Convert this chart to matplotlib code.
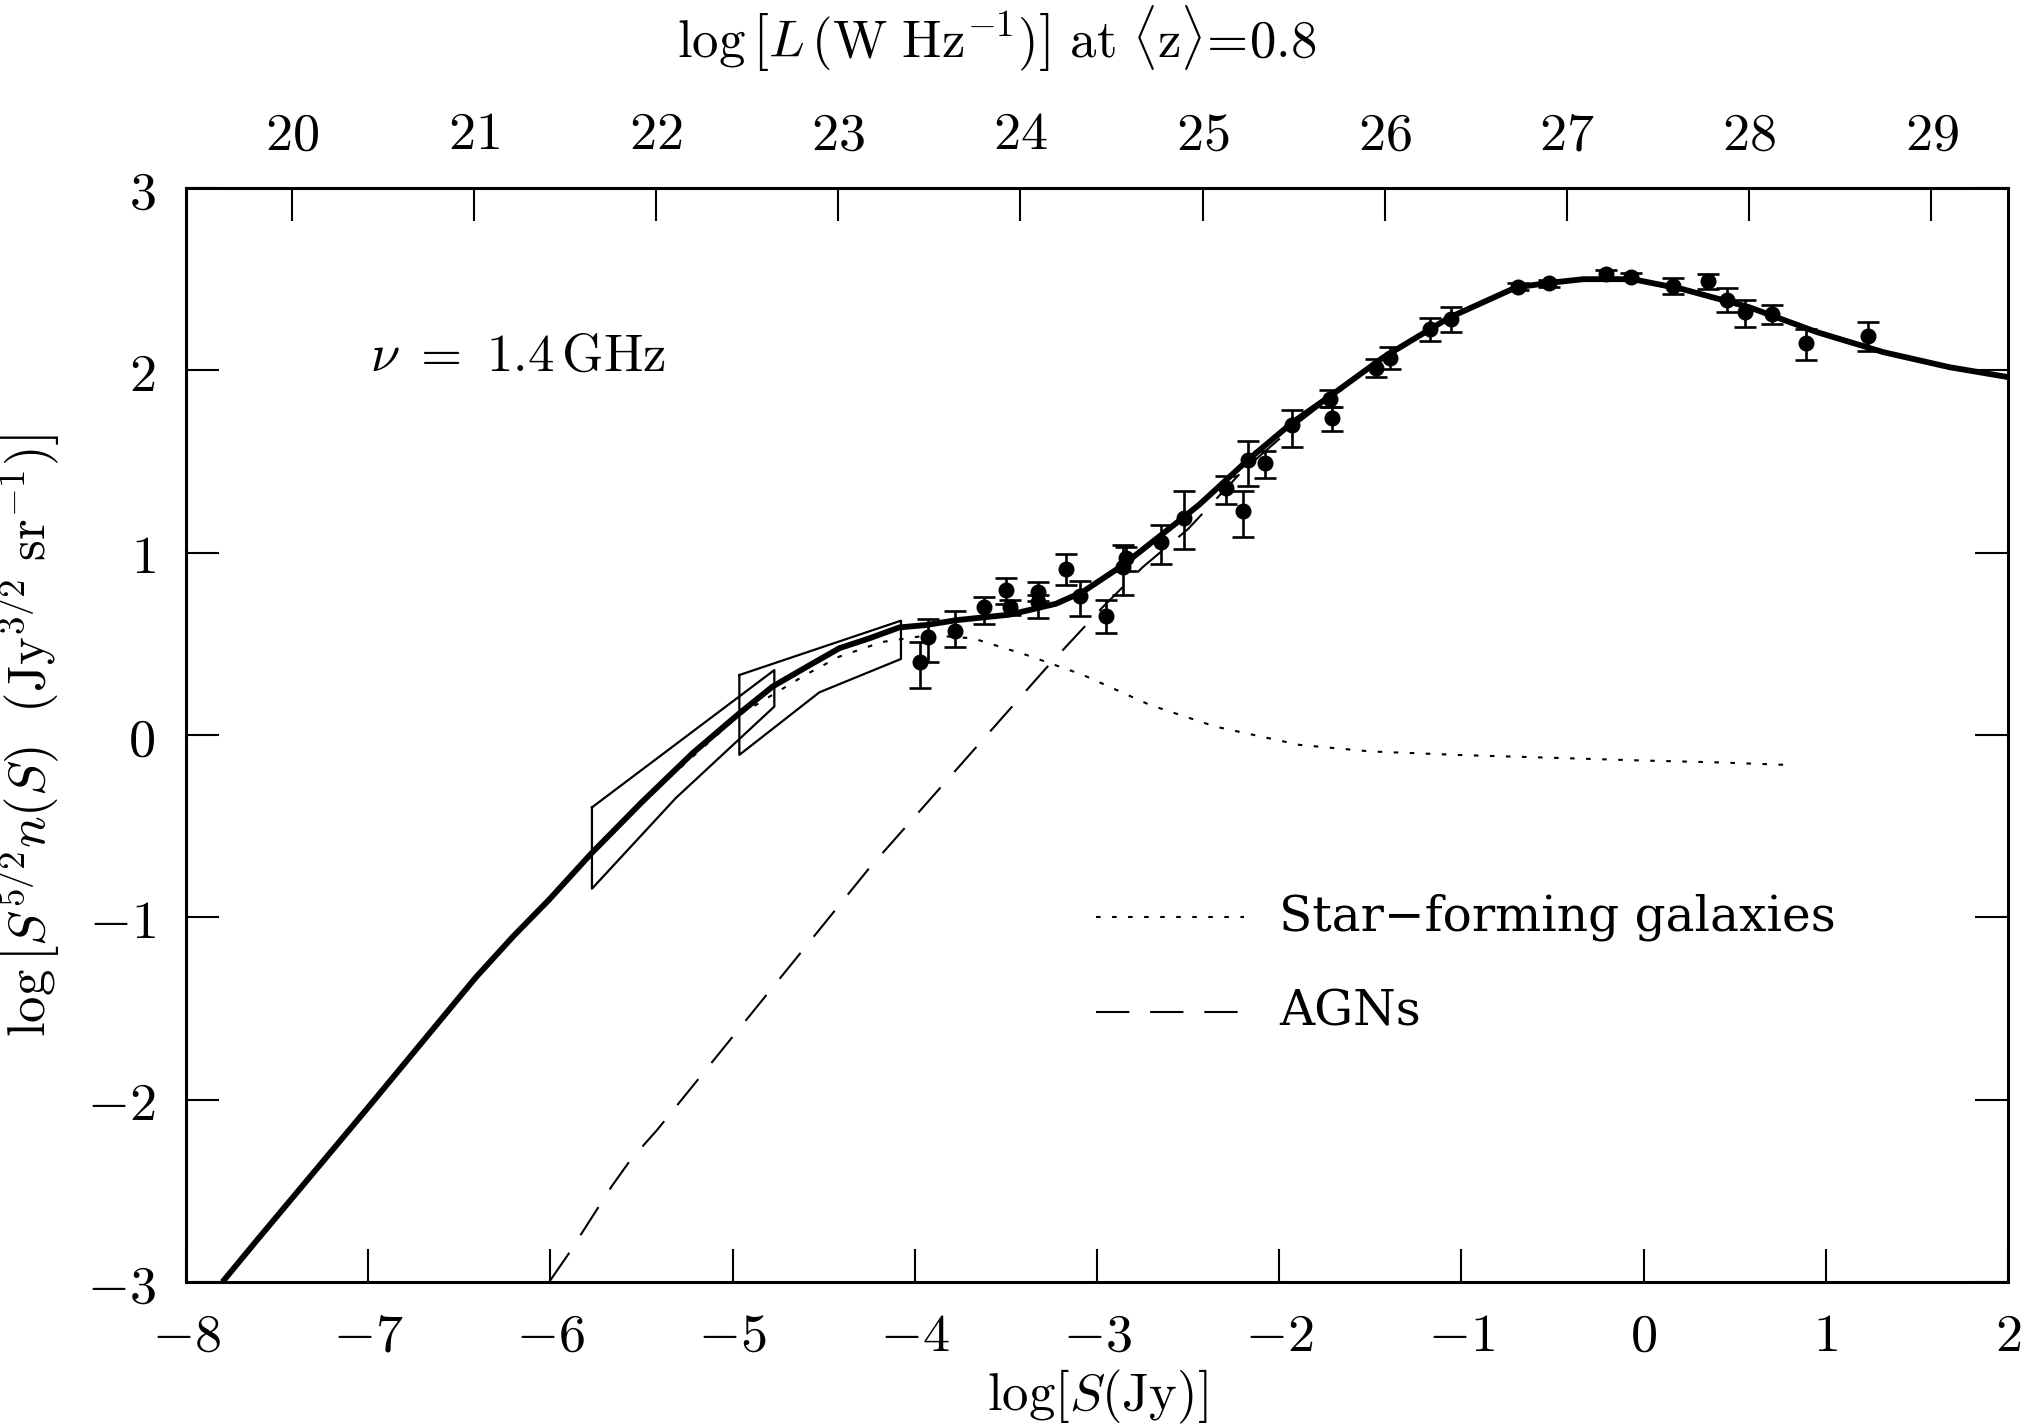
import matplotlib
matplotlib.use("Agg")
import matplotlib.pyplot as plt
from matplotlib.ticker import FuncFormatter
import numpy as np

plt.rcParams['mathtext.fontset'] = 'cm'
plt.rcParams['font.family'] = 'serif'
plt.rcParams['font.serif'] = ['DejaVu Serif']

# offset between log S and log L at <z> = 0.8
L_OFFSET = 27.42

# total model counts (solid)
tot_x = [-7.80, -7.61, -7.30, -6.99, -6.70, -6.41, -6.20, -6.007, -5.773, -5.50,
         -5.22, -4.963, -4.78, -4.60, -4.414, -4.25, -4.085, -3.94, -3.77, -3.48,
         -3.225, -3.078, -2.86, -2.53, -2.437, -2.17, -1.925, -1.705, -1.43, -1.065,
         -0.70, -0.515, -0.33, -0.06, 0.215, 0.58, 0.95, 1.315, 1.68, 2.0]
tot_y = [-3.0, -2.77, -2.40, -2.03, -1.68, -1.33, -1.10, -0.903, -0.647, -0.37,
         -0.10, 0.119, 0.266, 0.37, 0.476, 0.53, 0.59, 0.603, 0.63, 0.66,
         0.72, 0.785, 0.93, 1.19, 1.265, 1.51, 1.716, 1.87, 2.07, 2.29,
         2.455, 2.48, 2.50, 2.50, 2.445, 2.346, 2.21, 2.10, 2.017, 1.963]

# star-forming galaxies (dotted)
sf_x = [-7.80, -7.30, -6.70, -6.41, -6.20, -6.007, -5.50, -4.963, -4.60, -4.414,
        -4.18, -3.92, -3.68, -3.39, -3.078, -2.71, -2.35, -1.89, -1.5, -1.0,
        -0.5, 0.0, 0.4, 0.817]
sf_y = [-3.0, -2.40, -1.68, -1.33, -1.10, -0.903, -0.37, 0.11, 0.33, 0.43,
        0.51, 0.548, 0.53, 0.44, 0.33, 0.165, 0.046, -0.054, -0.09, -0.11,
        -0.125, -0.14, -0.15, -0.165]

# AGNs (dashed)
agn_x = [-6.0, -5.90, -5.66, -5.56, -5.415, -4.25, -3.28, -2.97, -2.75, -2.5,
         -2.2, -1.9, -1.705, -1.43, -1.065, -0.70, -0.33, -0.06, 0.215, 0.58,
         0.95, 1.315, 1.68, 2.0]
agn_y = [-2.99, -2.845, -2.47, -2.33, -2.167, -0.73, 0.366, 0.70, 0.92, 1.13,
         1.45, 1.71, 1.86, 2.065, 2.285, 2.45, 2.50, 2.495, 2.44, 2.34,
         2.205, 2.095, 2.012, 1.958]

# source counts with error bars
obs_x = [-3.97, -3.93, -3.78, -3.62, -3.50, -3.48, -3.325, -3.325, -3.17, -3.096,
         -2.95, -2.86, -2.84, -2.65, -2.525, -2.29, -2.20, -2.17, -2.08, -1.93,
         -1.72, -1.71, -1.47, -1.39, -1.17, -1.056, -0.69, -0.52, -0.208, -0.067,
         0.16, 0.356, 0.457, 0.554, 0.704, 0.893, 1.231]
obs_y = [0.40, 0.535, 0.57, 0.70, 0.794, 0.70, 0.785, 0.73, 0.91, 0.76,
         0.655, 0.92, 0.97, 1.06, 1.19, 1.356, 1.23, 1.51, 1.49, 1.70,
         1.843, 1.74, 2.013, 2.07, 2.225, 2.28, 2.458, 2.478, 2.527, 2.513,
         2.464, 2.49, 2.387, 2.32, 2.31, 2.149, 2.19]
obs_lo = [0.14, 0.135, 0.09, 0.09, 0.074, 0.04, 0.05, 0.09, 0.09, 0.11,
          0.095, 0.15, 0.07, 0.12, 0.17, 0.09, 0.145, 0.145, 0.08, 0.12,
          0.045, 0.07, 0.05, 0.06, 0.065, 0.07, 0.02, 0.02, 0.025, 0.02,
          0.044, 0.045, 0.067, 0.08, 0.056, 0.092, 0.085]
obs_hi = [0.11, 0.10, 0.11, 0.056, 0.068, 0.04, 0.055, 0.04, 0.08, 0.085,
          0.085, 0.12, 0.06, 0.09, 0.15, 0.065, 0.11, 0.10, 0.065, 0.08,
          0.05, 0.06, 0.05, 0.056, 0.06, 0.07, 0.02, 0.02, 0.025, 0.02,
          0.04, 0.04, 0.063, 0.067, 0.05, 0.078, 0.076]

# P(D) constraint boxes
box1_x = [-5.772, -4.771, -4.771, -5.312, -5.772, -5.772]
box1_y = [-0.397, 0.356, 0.156, -0.346, -0.843, -0.397]
box2_x = [-4.963, -4.076, -4.076, -4.524, -4.963, -4.963]
box2_y = [0.329, 0.627, 0.417, 0.234, -0.109, 0.329]

top_ticks = [20, 21, 22, 23, 24, 25, 26, 27, 28, 29]

fig = plt.figure(figsize=(20.22, 14.27), dpi=100)
ax = fig.add_axes([0.09199, 0.10161, 0.90109, 0.76664])

ax.plot(tot_x, tot_y, color='black', lw=4.2, solid_capstyle='butt',
        solid_joinstyle='round', zorder=4)
ax.plot(sf_x, sf_y, color='black', lw=1.5, dashes=(2.2, 5.5), zorder=3)
ax.plot(agn_x, agn_y, color='black', lw=1.5, dashes=(16, 10), zorder=3)
ax.plot(box1_x, box1_y, color='black', lw=1.6, zorder=3)
ax.plot(box2_x, box2_y, color='black', lw=1.6, zorder=3)
ax.errorbar(obs_x, obs_y, yerr=[obs_lo, obs_hi], fmt='o', color='black',
            ms=10.5, elinewidth=1.9, capsize=8, capthick=1.9, zorder=5)

# legend drawn by hand like the original
ax.plot([-3.006, -2.194], [-1.0, -1.0], color='black', lw=1.5, dashes=(2.2, 5.5))
ax.plot([-3.006, -2.194], [-1.52, -1.52], color='black', lw=1.5, dashes=(16, 10))
ax.text(-2.0, -1.0, 'Star\u2212forming galaxies', fontsize=35, va='center', ha='left',
        family='DejaVu Serif')
ax.text(-2.0, -1.52, 'AGNs', fontsize=35, va='center', ha='left', family='DejaVu Serif')
ax.text(-6.99, 2.08, r'$\nu\ =\ 1.4\,\mathrm{GHz}$', fontsize=38, va='center', ha='left')

ax.set_xlim(-8, 2)
ax.set_ylim(-3, 3)
ax.set_xticks(range(-8, 3))
ax.set_yticks(range(-3, 4))
fmt = FuncFormatter(lambda v, p: r'$%d$' % v)
ax.xaxis.set_major_formatter(fmt)
ax.yaxis.set_major_formatter(fmt)
ax.tick_params(direction='in', length=24, width=1.5, labelsize=39,
               right=True, top=False, pad=20)
ax.tick_params(axis='y', pad=22)
for s in ax.spines.values():
    s.set_linewidth(2.2)

ax2 = ax.twiny()
ax2.set_xlim(-8 + L_OFFSET, 2 + L_OFFSET)
ax2.set_xticks(top_ticks)
ax2.xaxis.set_major_formatter(fmt)
ax2.tick_params(direction='in', length=24, width=1.5, labelsize=39, pad=20)

ax.set_xlabel(r'$\log[S(\mathrm{Jy})]$', fontsize=38)
ax.xaxis.set_label_coords(0.5, -0.105)
ax.xaxis.label.set_va('center')
ax.set_ylabel(r'$\log\left[S^{5/2}n(S)\ \ (\mathrm{Jy}^{3/2}\ \mathrm{sr}^{-1})\right]$', fontsize=38)
ax.yaxis.set_label_coords(-0.086, 0.5)
ax.yaxis.label.set_va('center')
ax2.set_xlabel(r'$\log\left[L\,(\mathrm{W\ Hz}^{-1})\right]\ \mathrm{at}\ \langle\mathrm{z}\rangle\!=\!0.8$', fontsize=38)
ax2.xaxis.set_label_coords(0.445, 1.136)
ax2.xaxis.label.set_va('center')

fig.savefig('out.png', dpi=100)
